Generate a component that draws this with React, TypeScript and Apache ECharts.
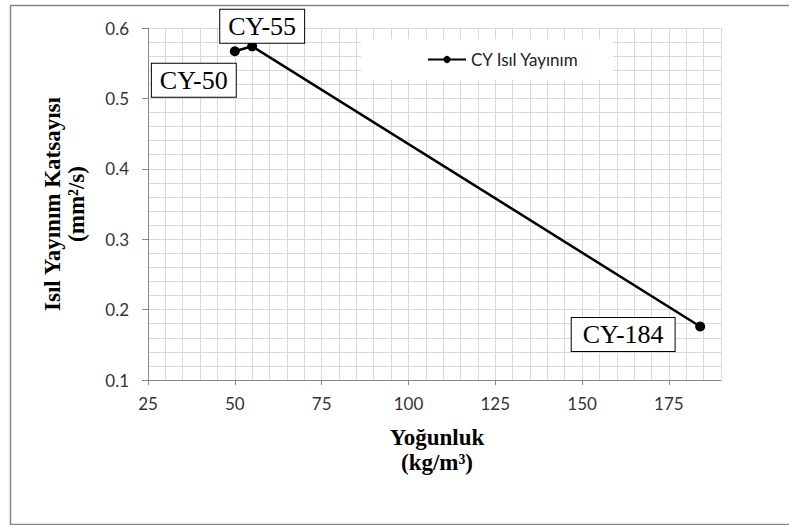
import React, { useEffect, useRef } from "react";
import * as echarts from "echarts";

const seriesName = "CY Isıl Yayınım";
const density = [50, 55, 184];
const diffusivity = [0.567, 0.574, 0.176];
const pointLabels = ["CY-50", "CY-55", "CY-184"];
const xTickLabels = [25, 50, 75, 100, 125, 150, 175];
const yTickLabels = [0.1, 0.2, 0.3, 0.4, 0.5, 0.6];

const labelOffsets: [number, number][] = [[-41, 29], [10, -20], [-77, 8]];
const labelPads: number[][] = [[3, 8, 1, 8], [3, 8, 1, 8], [3, 11, 1, 11]];

export default function App() {
  const ref = useRef<HTMLDivElement>(null);
  useEffect(() => {
    const chart = echarts.init(ref.current!, null, { renderer: "svg" });
    const serif = "'Liberation Serif', 'DejaVu Serif', serif";
    const sans = "Lato, 'Liberation Sans', sans-serif";
    const data = density.map((x, i) => ({
      value: [x, diffusivity[i]],
      label: {
        show: true,
        formatter: pointLabels[i],
        position: "inside",
        offset: labelOffsets[i],
        fontFamily: serif,
        fontSize: 26,
        lineHeight: 29,
        color: "#000",
        backgroundColor: "#fff",
        borderColor: "#000",
        borderWidth: 1,
        padding: labelPads[i],
      },
    }));
    chart.setOption({
      animation: false,
      backgroundColor: "#fff",
      grid: { left: 148, top: 28, right: 68, bottom: 145, containLabel: false },
      legend: {
        data: [seriesName],
        left: 361,
        top: 39,
        backgroundColor: "#fff",
        padding: [12, 34, 12, 66],
        itemWidth: 38,
        itemHeight: 9,
        itemGap: 4,
        textStyle: { fontFamily: sans, fontSize: 17, color: "#222" },
      },
      xAxis: [
        {
          type: "value",
          min: 25,
          max: 190,
          interval: 25,
          axisLine: { show: true, lineStyle: { color: "#868686" } },
          axisTick: { show: true, length: 5, lineStyle: { color: "#868686" }, customValues: xTickLabels },
          axisLabel: { customValues: xTickLabels, fontFamily: sans, fontSize: 17, color: "#333", margin: 15 },
          splitLine: { show: true, lineStyle: { color: "#a6a6a6", width: 1 } },
        },
        {
          type: "value",
          min: 25,
          max: 190,
          interval: 5,
          position: "bottom",
          axisLine: { show: false },
          axisTick: { show: false },
          axisLabel: { show: false },
          splitLine: { show: true, lineStyle: { color: "#d9d9d9", width: 1 } },
        },
      ],
      yAxis: [
        {
          type: "value",
          min: 0.1,
          max: 0.6,
          interval: 0.1,
          axisLine: { show: true, lineStyle: { color: "#868686" } },
          axisTick: { show: true, length: 6, lineStyle: { color: "#868686" }, customValues: yTickLabels },
          axisLabel: { customValues: yTickLabels, fontFamily: sans, fontSize: 17, color: "#333", margin: 19,
            formatter: (v: number) => v.toFixed(1) },
          splitLine: { show: true, lineStyle: { color: "#a6a6a6", width: 1 } },
        },
        {
          type: "value",
          min: 0.1,
          max: 0.6,
          interval: 0.02,
          axisLine: { show: false },
          axisTick: { show: false },
          axisLabel: { show: false },
          splitLine: { show: true, lineStyle: { color: "#d9d9d9", width: 1 } },
        },
      ],
      series: [
        {
          name: seriesName,
          type: "line",
          xAxisIndex: 0,
          yAxisIndex: 0,
          data,
          symbol: "circle",
          symbolSize: 10,
          lineStyle: { color: "#000", width: 2.5 },
          itemStyle: { color: "#000" },
          z: 5,
        },
      ],
      graphic: [
        {
          type: "rect",
          left: 8,
          top: 3,
          shape: { x: 0, y: 0, width: 800, height: 519 },
          style: { fill: "none", stroke: "#868686", lineWidth: 1.5 },
          z: 100,
        },
        {
          type: "text",
          x: 52,
          y: 204,
          rotation: Math.PI / 2,
          style: {
            text: "Isıl Yayınım Katsayısı",
            fontFamily: serif,
            fontWeight: "bold",
            fontSize: 23,
            fill: "#000",
            align: "center",
            verticalAlign: "middle",
          },
        },
        {
          type: "text",
          x: 76,
          y: 204,
          rotation: Math.PI / 2,
          style: {
            text: "(mm²/s)",
            fontFamily: serif,
            fontWeight: "bold",
            fontSize: 23,
            fill: "#000",
            align: "center",
            verticalAlign: "middle",
          },
        },
        {
          type: "text",
          x: 437,
          y: 437,
          style: {
            text: "Yoğunluk",
            fontFamily: serif,
            fontWeight: "bold",
            fontSize: 23,
            fill: "#000",
            align: "center",
            verticalAlign: "middle",
          },
        },
        {
          type: "text",
          x: 437,
          y: 462,
          style: {
            text: "(kg/m³)",
            fontFamily: serif,
            fontWeight: "bold",
            fontSize: 23,
            fill: "#000",
            align: "center",
            verticalAlign: "middle",
          },
        },
      ],
    });
    return () => chart.dispose();
  }, []);
  return (
    <div
      ref={ref}
      style={{ position: "fixed", left: 0, top: 0, width: 789, height: 525 }}
    />
  );
}
